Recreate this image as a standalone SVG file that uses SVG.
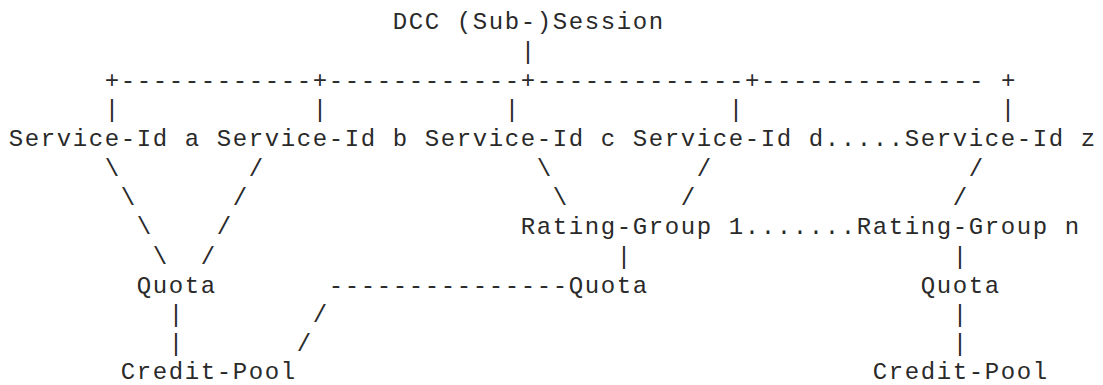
<svg xmlns="http://www.w3.org/2000/svg" width="1103" height="385" viewBox="0 0 1103 385">
<style>
text{font-family:"Liberation Mono","Courier New",monospace;font-size:24px;letter-spacing:1.6px;fill:#2a2a2a;white-space:pre}
</style>
<rect width="1103" height="385" fill="#fff"/>
<g transform="translate(0.8,0)">
<g id="connectors">
<text x="520" y="58.6">|</text>
<text x="104" y="87.9">+------------+------------+-------------+-------------- +</text>
<text x="104" y="117.1">|</text>
<text x="312" y="117.1">|</text>
<text x="504" y="117.1">|</text>
<text x="728" y="117.1">|</text>
<text x="1000" y="117.1">|</text>
<text x="824" y="146.4">.....</text>
<text x="104" y="175.7">\</text>
<text x="248" y="175.7">/</text>
<text x="536" y="175.7">\</text>
<text x="696" y="175.7">/</text>
<text x="968" y="175.7">/</text>
<text x="120" y="205">\</text>
<text x="232" y="205">/</text>
<text x="552" y="205">\</text>
<text x="680" y="205">/</text>
<text x="952" y="205">/</text>
<text x="136" y="234.3">\</text>
<text x="216" y="234.3">/</text>
<text x="744" y="234.3">.......</text>
<text x="152" y="263.5">\</text>
<text x="200" y="263.5">/</text>
<text x="616" y="263.5">|</text>
<text x="952" y="263.5">|</text>
<text x="328" y="292.8">---------------</text>
<text x="168" y="322.1">|</text>
<text x="312" y="322.1">/</text>
<text x="952" y="322.1">|</text>
<text x="168" y="351.4">|</text>
<text x="296" y="351.4">/</text>
<text x="952" y="351.4">|</text>
</g>
<g id="dcc-session"><text x="392" y="29.3">DCC (Sub-)Session</text></g>
<g id="service-id-a"><text x="8" y="146.4">Service-Id a</text></g>
<g id="service-id-b"><text x="216" y="146.4">Service-Id b</text></g>
<g id="service-id-c"><text x="424" y="146.4">Service-Id c</text></g>
<g id="service-id-d"><text x="632" y="146.4">Service-Id d</text></g>
<g id="service-id-z"><text x="904" y="146.4">Service-Id z</text></g>
<g id="rating-group-1"><text x="520" y="234.3">Rating-Group 1</text></g>
<g id="rating-group-n"><text x="856" y="234.3">Rating-Group n</text></g>
<g id="quota-1"><text x="136" y="292.8">Quota</text></g>
<g id="quota-2"><text x="568" y="292.8">Quota</text></g>
<g id="quota-3"><text x="920" y="292.8">Quota</text></g>
<g id="credit-pool-1"><text x="120" y="378.5">Credit-Pool</text></g>
<g id="credit-pool-2"><text x="872" y="378.5">Credit-Pool</text></g>
</g>
</svg>
